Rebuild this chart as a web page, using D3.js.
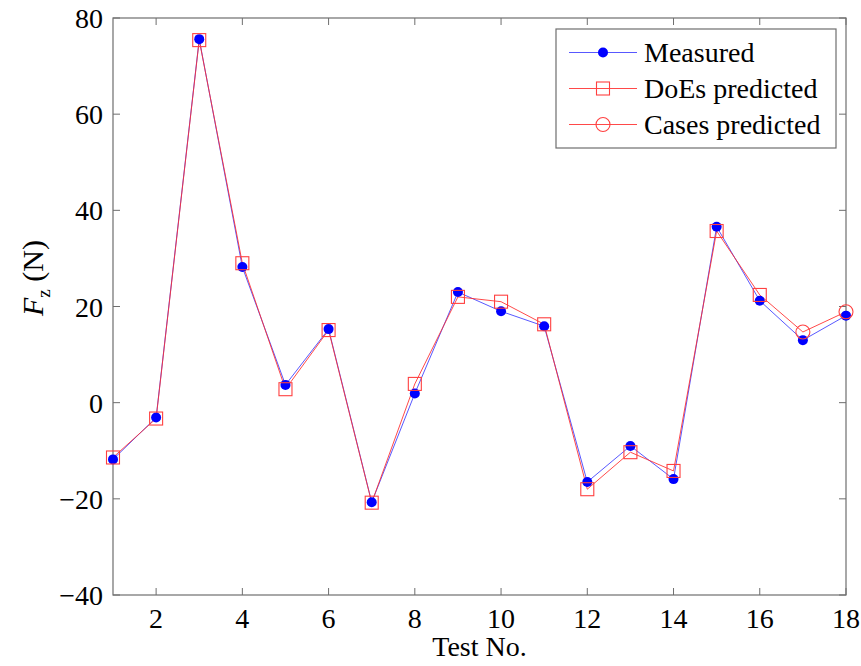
<!DOCTYPE html>
<html>
<head>
<meta charset="utf-8">
<script src="https://cdn.jsdelivr.net/npm/d3@7"></script>
<style>
  body { margin: 0; background: #fff; }
</style>
</head>
<body>
<div id="chart"></div>
<script>
// Test numbers and force values (N)
const tests = d3.range(1, 19);
const measured = [-11.8, -3.1, 75.6, 28.2, 3.7, 15.3, -20.7, 1.9, 23.0, 19.0, 15.9, -16.5, -9.0, -15.9, 36.6, 21.2, 13.0, 18.1];
const doesTests = d3.range(1, 17);
const doesPredicted = [-11.4, -3.3, 75.4, 29.0, 2.8, 15.1, -20.8, 3.9, 22.0, 21.0, 16.3, -18.0, -10.3, -14.2, 35.7, 22.4];
const casesTests = [17, 18];
const casesPredicted = [14.7, 18.9];
const xTicks = [2, 4, 6, 8, 10, 12, 14, 16, 18];
const yTicks = [-40, -20, 0, 20, 40, 60, 80];

const width = 861, height = 666;
const margin = { top: 18, right: 15, bottom: 71, left: 113 };
const font = "'Liberation Serif', 'Times New Roman', Times, serif";

const svg = d3.select("#chart").append("svg")
  .attr("width", width)
  .attr("height", height)
  .attr("font-family", font);

const x = d3.scaleLinear().domain([1, 18]).range([margin.left, width - margin.right]);
const y = d3.scaleLinear().domain([-40, 80]).range([height - margin.bottom, margin.top]);

const axisColor = "#6e6e6e";
const tickLen = 7;

// box
svg.append("rect")
  .attr("x", x(1)).attr("y", y(80))
  .attr("width", x(18) - x(1)).attr("height", y(-40) - y(80))
  .attr("fill", "none").attr("stroke", axisColor).attr("stroke-width", 1.2);

// inward ticks on all four sides
const g = svg.append("g").attr("stroke", axisColor).attr("stroke-width", 1);
xTicks.forEach(t => {
  g.append("line").attr("x1", x(t)).attr("x2", x(t)).attr("y1", y(-40)).attr("y2", y(-40) - tickLen);
  g.append("line").attr("x1", x(t)).attr("x2", x(t)).attr("y1", y(80)).attr("y2", y(80) + tickLen);
});
yTicks.forEach(t => {
  g.append("line").attr("x1", x(1)).attr("x2", x(1) + tickLen).attr("y1", y(t)).attr("y2", y(t));
  g.append("line").attr("x1", x(18)).attr("x2", x(18) - tickLen).attr("y1", y(t)).attr("y2", y(t));
});

// tick labels
svg.selectAll(".xlab").data(xTicks).enter().append("text")
  .attr("x", d => x(d)).attr("y", y(-40) + 33)
  .attr("text-anchor", "middle").attr("font-size", 28)
  .text(d => d);
svg.selectAll(".ylab").data(yTicks).enter().append("text")
  .attr("x", x(1) - 10).attr("y", d => y(d) + 10)
  .attr("text-anchor", "end").attr("font-size", 28)
  .text(d => d < 0 ? "\u2212" + Math.abs(d) : d);

// axis titles
svg.append("text")
  .attr("x", (x(1) + x(18)) / 2).attr("y", 656)
  .attr("text-anchor", "middle").attr("font-size", 28)
  .text("Test No.");
const yt = svg.append("text")
  .attr("transform", "translate(43,278) rotate(-90)")
  .attr("text-anchor", "middle").attr("font-size", 30);
yt.append("tspan").attr("font-style", "italic").text("F");
yt.append("tspan").attr("font-size", 19).attr("dy", 7).text("z");
yt.append("tspan").attr("dy", -7).text(" (N)");

const line = d3.line().x(d => x(d[0])).y(d => y(d[1]));

const measPts = tests.map((t, i) => [t, measured[i]]);
const doesPts = doesTests.map((t, i) => [t, doesPredicted[i]]);
const casesPts = casesTests.map((t, i) => [t, casesPredicted[i]]);

// measured line
svg.append("path").datum(measPts)
  .attr("d", line).attr("fill", "none")
  .attr("stroke", "#3b3bff").attr("stroke-width", 1).attr("opacity", 0.85);

// predicted line (DoEs then Cases, joined)
svg.append("path").datum(doesPts.concat(casesPts))
  .attr("d", line).attr("fill", "none")
  .attr("stroke", "#ff2a2a").attr("stroke-width", 1).attr("opacity", 0.85);

// measured markers
svg.selectAll(".meas").data(measPts).enter().append("circle")
  .attr("cx", d => x(d[0])).attr("cy", d => y(d[1])).attr("r", 5)
  .attr("fill", "#0000ff");

// DoEs squares
const sq = 13;
svg.selectAll(".does").data(doesPts).enter().append("rect")
  .attr("x", d => x(d[0]) - sq / 2).attr("y", d => y(d[1]) - sq / 2)
  .attr("width", sq).attr("height", sq)
  .attr("fill", "none").attr("stroke", "#ff4040").attr("stroke-width", 1.1);

// Cases circles
svg.selectAll(".cases").data(casesPts).enter().append("circle")
  .attr("cx", d => x(d[0])).attr("cy", d => y(d[1])).attr("r", 7)
  .attr("fill", "none").attr("stroke", "#ff4040").attr("stroke-width", 1.1);

// legend
const lg = svg.append("g");
lg.append("rect")
  .attr("x", 556).attr("y", 29).attr("width", 280).attr("height", 119)
  .attr("fill", "#fff").attr("stroke", axisColor).attr("stroke-width", 1.2);
const entries = [
  { label: "Measured", color: "#3b3bff", marker: "dot" },
  { label: "DoEs predicted", color: "#ff2a2a", marker: "square" },
  { label: "Cases predicted", color: "#ff2a2a", marker: "circle" }
];
entries.forEach((e, i) => {
  const cy = 52.5 + i * 36;
  lg.append("line").attr("x1", 569).attr("x2", 637).attr("y1", cy).attr("y2", cy)
    .attr("stroke", e.color).attr("stroke-width", 1).attr("opacity", 0.85);
  if (e.marker === "dot") {
    lg.append("circle").attr("cx", 603).attr("cy", cy).attr("r", 5).attr("fill", "#0000ff");
  } else if (e.marker === "square") {
    lg.append("rect").attr("x", 603 - sq / 2).attr("y", cy - sq / 2).attr("width", sq).attr("height", sq)
      .attr("fill", "none").attr("stroke", "#ff4040").attr("stroke-width", 1.1);
  } else {
    lg.append("circle").attr("cx", 603).attr("cy", cy).attr("r", 7)
      .attr("fill", "none").attr("stroke", "#ff4040").attr("stroke-width", 1.1);
  }
  lg.append("text").attr("x", 644).attr("y", cy + 9).attr("font-size", 28).text(e.label);
});
</script>
</body>
</html>
